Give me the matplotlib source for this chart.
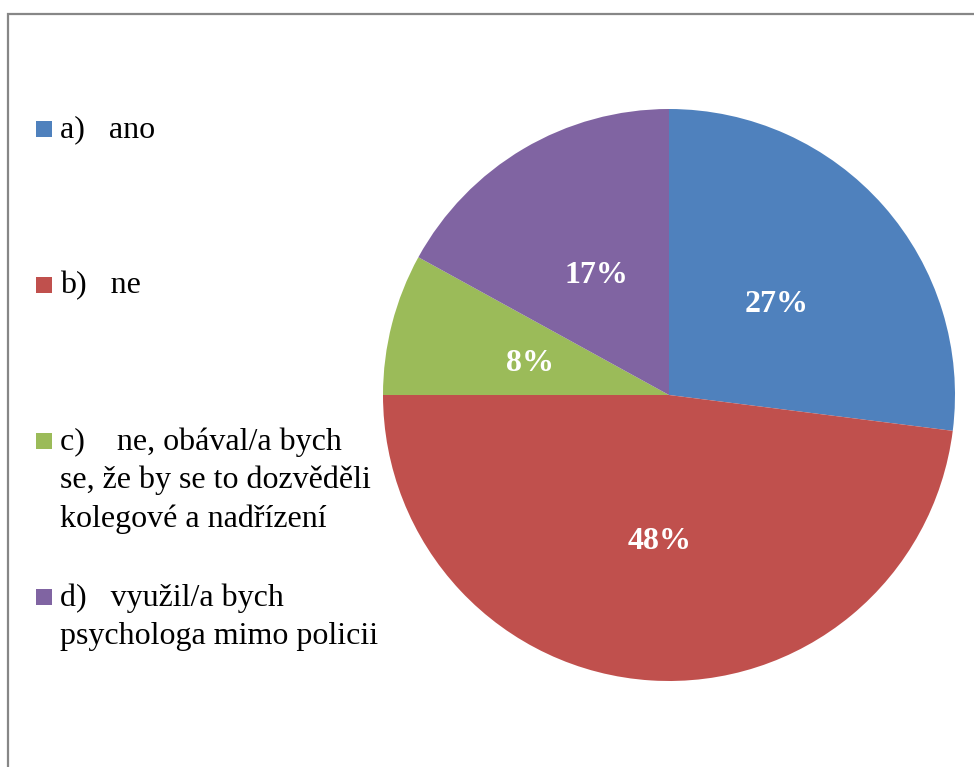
import matplotlib.pyplot as plt
from matplotlib.patches import Rectangle

# data
kategorie = ['a)   ano', 'b)   ne',
             'c)    ne, obával/a bych\nse, že by se to dozvěděli\nkolegové a nadřízení',
             'd)   využil/a bych\npsychologa mimo policii']
podily = [27, 48, 8, 17]
barvy = ['#4F81BD', '#C0504D', '#9BBB59', '#8064A2']

W, H = 974, 767
plt.rcParams['font.family'] = ['Liberation Serif', 'DejaVu Serif']

fig = plt.figure(figsize=(W / 100, H / 100), dpi=100)
ax = fig.add_axes([0, 0, 1, 1])

# ramecek (jen horni a levy okraj je videt)
ax.add_patch(Rectangle((8, -20), 1200, H - 14 + 20, fill=False,
                       edgecolor='#878787', linewidth=1.6, clip_on=False))

# kolac
klinky, texty, pct = ax.pie(podily, colors=barvy, startangle=90, counterclock=False,
                            center=(669, H - 395), radius=286, frame=True,
                            autopct='%.0f%%', pctdistance=0.5,
                            wedgeprops=dict(linewidth=0))
for t in pct:
    t.set_color('white')
    t.set_fontsize(23)
    t.set_fontweight('bold')
    x, y = t.get_position()
    t.set_position((x, y - 4))
ax.set_xlim(0, W)
ax.set_ylim(0, H)
ax.set_aspect('equal')
ax.axis('off')

# legenda
y0 = 130
krok = 156
radek = 38.5
for i, (lab, c) in enumerate(zip(kategorie, barvy)):
    y = y0 + i * krok
    ax.add_patch(Rectangle((36, H - y - 7), 16, 16, color=c, linewidth=0))
    for j, line in enumerate(lab.split('\n')):
        ax.text(60, H - y - j * radek, line, fontsize=23, va='center', ha='left', color='black')

fig.savefig('out.png', dpi=100)
